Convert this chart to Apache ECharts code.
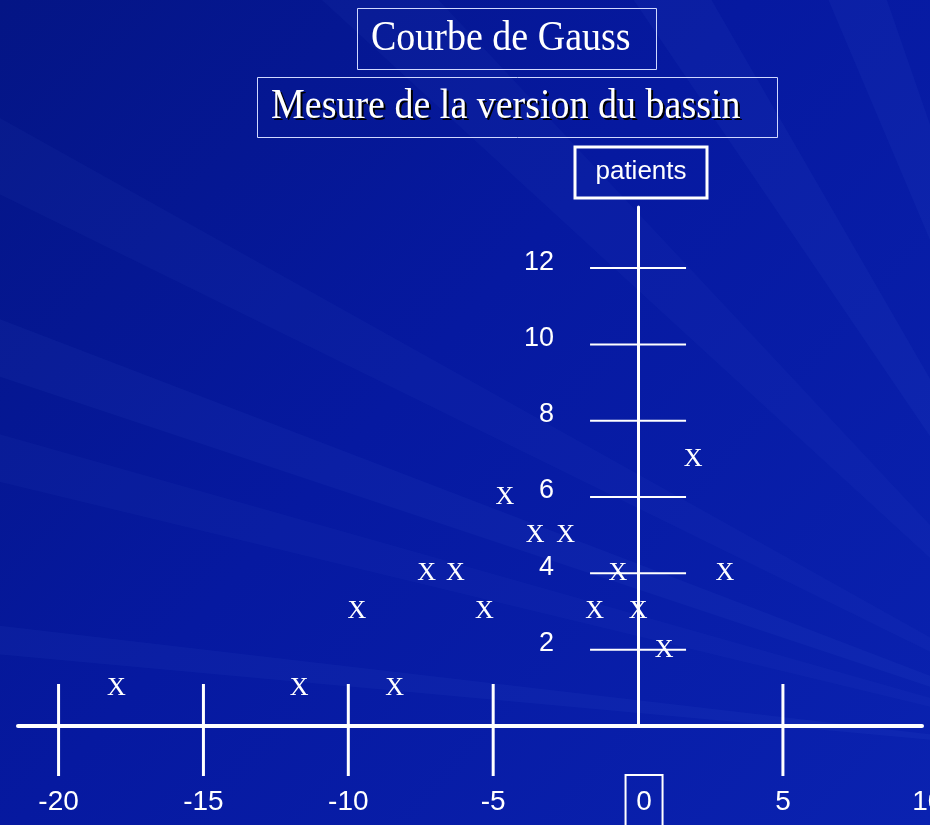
<!DOCTYPE html>
<html>
<head>
<meta charset="utf-8">
<script src="https://cdn.jsdelivr.net/npm/echarts@6/dist/echarts.min.js"></script>
<style>
html,body{margin:0;padding:0;background:#0619a1;}
#chart{width:930px;height:825px;}
</style>
</head>
<body>
<div id="chart"></div>
<script>
// ---- data ----
var titleMain = 'Courbe de Gauss';
var titleSub = 'Mesure de la version du bassin';
var yAxisName = 'patients';
var xTicks = [-20, -15, -10, -5, 5];
var xLabels = [-20, -15, -10, -5, 0, 5, 10];
var yTicks = [2, 4, 6, 8, 10, 12];
// measured version (x) and patient count level (y) of each "X" mark
var markX = [-18.0, -11.7, -8.4, 0.9, -9.7, -5.3, -1.5, 0.0, -7.3, -6.3, -0.7, 3.0, -3.55, -2.5, -4.6, 1.9];
var markY = [1, 1, 1, 2, 3, 3, 3, 3, 4, 4, 4, 4, 5, 5, 6, 7];

var points = markX.map(function (x, i) { return [x, markY[i]]; });

var chart = echarts.init(document.getElementById('chart'));

function ray(fx, fy, pts, op) {
  return {
    type: 'polygon', silent: true, z: -10,
    shape: { points: [[fx, fy]].concat(pts) },
    style: { fill: 'rgba(120,150,255,' + op + ')' }
  };
}

var serifFont = '"Liberation Serif", "Times New Roman", serif';
var sansFont = '"Liberation Sans", Arial, sans-serif';

var option = {
  backgroundColor: {
    type: 'linear', x: 0, y: 0, x2: 1, y2: 1,
    colorStops: [
      { offset: 0, color: '#041585' },
      { offset: 0.45, color: '#0619a0' },
      { offset: 1, color: '#0a22b0' }
    ]
  },
  animation: false,
  grid: { left: 18, right: 8, top: 207, bottom: 99, containLabel: false, outerBoundsMode: 'none' },
  xAxis: {
    type: 'value', min: -21.4, max: 9.8,
    axisLine: { show: true, onZero: true, lineStyle: { color: '#fff', width: 4 } },
    axisTick: { show: false },
    splitLine: { show: false },
    axisLabel: { show: false }
  },
  yAxis: {
    type: 'value', min: 0, max: 13.6,
    axisLine: { show: true, onZero: true, lineStyle: { color: '#fff', width: 3 } },
    axisTick: { show: false },
    splitLine: { show: false },
    axisLabel: { show: false }
  },
  graphic: [
    ray(1150, 760, [[-50, 90], [-50, 170]], 0.04),
    ray(1150, 760, [[-50, 300], [-50, 360]], 0.05),
    ray(1150, 760, [[-50, 420], [-50, 470]], 0.04),
    ray(1150, 760, [[300, -20], [420, -20]], 0.04),
    ray(1150, 760, [[620, -20], [700, -20]], 0.05),
    ray(1150, 760, [[820, -20], [880, -20]], 0.05),
    ray(1150, 760, [[-50, 620], [-50, 650]], 0.05),
    {
      type: 'rect', z: 10,
      shape: { x: 357.5, y: 8.5, width: 299, height: 61 },
      style: { fill: 'none', stroke: '#d0d8ff', lineWidth: 1 }
    },
    {
      type: 'text', z: 11, x: 371, y: 39, scaleY: 1.1,
      style: { text: titleMain, fill: '#fff', font: '38px ' + serifFont, verticalAlign: 'middle' }
    },
    {
      type: 'rect', z: 10,
      shape: { x: 257.5, y: 77.5, width: 520, height: 60 },
      style: { fill: 'none', stroke: '#d0d8ff', lineWidth: 1 }
    },
    {
      type: 'text', z: 11, x: 273, y: 109, scaleY: 1.1,
      style: { text: titleSub, fill: '#000', font: '38px ' + serifFont, verticalAlign: 'middle' }
    },
    {
      type: 'text', z: 12, x: 271, y: 107, scaleY: 1.1,
      style: { text: titleSub, fill: '#fff', font: '38px ' + serifFont, verticalAlign: 'middle' }
    },
    {
      type: 'rect', z: 10,
      shape: { x: 575, y: 147, width: 132, height: 51 },
      style: { fill: 'none', stroke: '#fff', lineWidth: 3 }
    },
    {
      type: 'text', z: 11, x: 641, y: 172,
      style: { text: yAxisName, fill: '#fff', font: '26px ' + sansFont,
               align: 'center', verticalAlign: 'middle' }
    }
  ],
  series: [
    {
      // x-axis tick crosses
      type: 'custom', clip: false, silent: true,
      data: xTicks.map(function (v) { return [v, 0]; }),
      renderItem: function (params, api) {
        var p = api.coord([api.value(0), 0]);
        return {
          type: 'line',
          shape: { x1: p[0], y1: p[1] - 42, x2: p[0], y2: p[1] + 50 },
          style: { stroke: '#fff', lineWidth: 3 }
        };
      }
    },
    {
      // x-axis labels (0 boxed)
      type: 'custom', clip: false, silent: true,
      data: xLabels.map(function (v) { return [v, 0]; }),
      renderItem: function (params, api) {
        var v = api.value(0);
        var p = api.coord([v, 0]);
        var children = [];
        var cx = v === 0 ? p[0] + 6 : p[0];
        if (v === 0) {
          children.push({
            type: 'rect',
            shape: { x: cx - 18.5, y: p[1] + 49, width: 37, height: 60 },
            style: { fill: 'none', stroke: '#fff', lineWidth: 2 }
          });
        }
        children.push({
          type: 'text', x: cx, y: p[1] + 76,
          style: { text: String(v), fill: '#fff', font: '28px ' + sansFont,
                   align: 'center', verticalAlign: 'middle' }
        });
        return { type: 'group', children: children };
      }
    },
    {
      // y-axis tick crosses and labels
      type: 'custom', clip: false, silent: true,
      data: yTicks.map(function (v) { return [0, v]; }),
      renderItem: function (params, api) {
        var v = api.value(1);
        var p = api.coord([0, v]);
        return {
          type: 'group',
          children: [
            {
              type: 'line',
              shape: { x1: p[0] - 48, y1: p[1], x2: p[0] + 48, y2: p[1] },
              style: { stroke: '#fff', lineWidth: 2 }
            },
            {
              type: 'text', x: p[0] - 84, y: p[1] - 6,
              style: { text: String(v), fill: '#fff', font: '27px ' + sansFont,
                       align: 'right', verticalAlign: 'middle' }
            }
          ]
        };
      }
    },
    {
      // the "X" marks
      type: 'custom', clip: false, silent: true,
      data: points,
      renderItem: function (params, api) {
        var p = api.coord([api.value(0), api.value(1)]);
        return {
          type: 'text', x: p[0], y: p[1],
          style: { text: 'X', fill: '#fff', font: '26px ' + serifFont,
                   align: 'center', verticalAlign: 'middle' }
        };
      },
      z: 5
    }
  ]
};
chart.setOption(option);
</script>
</body>
</html>
